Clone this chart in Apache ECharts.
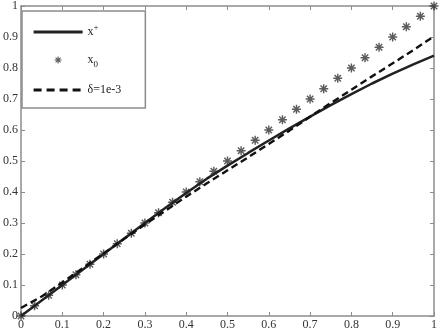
<!DOCTYPE html>
<html>
<head>
<meta charset="utf-8">
<script src="https://cdn.jsdelivr.net/npm/echarts@6/dist/echarts.min.js"></script>
<style>
  html, body { margin: 0; padding: 0; background: #fff; }
  #chart { width: 440px; height: 331px; }
</style>
</head>
<body>
<div id="chart"></div>
<script>
// curve samples
const xGrid = [0, 0.05, 0.1, 0.15, 0.2, 0.25, 0.3, 0.35, 0.4, 0.45, 0.5, 0.55, 0.6, 0.65, 0.7, 0.75, 0.8, 0.85, 0.9, 0.95, 1]
const xPlus = [0, 0.05, 0.1, 0.15, 0.2, 0.25, 0.3, 0.349, 0.397, 0.443, 0.485, 0.526, 0.566, 0.605, 0.643, 0.68, 0.716, 0.75, 0.782, 0.812, 0.84]
const xDelta = [0.026, 0.063, 0.108, 0.155, 0.202, 0.249, 0.295, 0.34, 0.385, 0.428, 0.47, 0.512, 0.555, 0.598, 0.643, 0.687, 0.73, 0.773, 0.815, 0.858, 0.902]
// x0 markers
const x0X = [0, 0.033, 0.067, 0.1, 0.133, 0.167, 0.2, 0.233, 0.267, 0.3, 0.333, 0.367, 0.4, 0.433, 0.467, 0.5,
  0.533, 0.567, 0.6, 0.633, 0.667, 0.7, 0.733, 0.767, 0.8, 0.833, 0.867, 0.9, 0.933, 0.967, 1]
const x0Y = [0, 0.033, 0.067, 0.1, 0.133, 0.167, 0.2, 0.233, 0.267, 0.3, 0.333, 0.367, 0.4, 0.433, 0.467, 0.5,
  0.533, 0.567, 0.6, 0.633, 0.667, 0.7, 0.733, 0.767, 0.8, 0.833, 0.867, 0.9, 0.933, 0.967, 1]
const names = ['x+', 'x0', 'δ=1e-3']

// asterisk made of 4 thin bars
const star = 'M-1.6,-10 L1.6,-10 L1.6,10 L-1.6,10 Z ' +
  'M-10,-1.6 L10,-1.6 L10,1.6 L-10,1.6 Z ' +
  'M5.94,-8.2 L8.2,-5.94 L-5.94,8.2 L-8.2,5.94 Z ' +
  'M-8.2,-5.94 L-5.94,-8.2 L8.2,5.94 L5.94,8.2 Z'
const starIcon = 'path://M0,-20 M0,20 ' + star

const font = 'Liberation Serif'
const axisGray = '#8c8c8c'

function axisX(pos, showLabel) {
  return {
    type: 'value', position: pos, min: 0, max: 1, interval: 0.1,
    axisLine: { show: true, onZero: false, lineStyle: { color: axisGray, width: 1.5 } },
    axisTick: { show: true, inside: true, length: 4, lineStyle: { color: axisGray } },
    axisLabel: {
      show: showLabel, margin: 3, color: '#333', fontFamily: font, fontSize: 12,
      showMinLabel: true, showMaxLabel: true, hideOverlap: false
    },
    splitLine: { show: false }
  }
}
function axisY(pos, showLabel) {
  return {
    type: 'value', position: pos, min: 0, max: 1, interval: 0.1,
    axisLine: { show: true, onZero: false, lineStyle: { color: axisGray, width: 1.5 } },
    axisTick: { show: true, inside: true, length: 4, lineStyle: { color: axisGray } },
    axisLabel: {
      show: showLabel, margin: 3, color: '#333', fontFamily: font, fontSize: 12,
      showMinLabel: true, showMaxLabel: true, hideOverlap: false
    },
    splitLine: { show: false }
  }
}

const option = {
  animation: false,
  backgroundColor: '#fff',
  grid: { left: 17, right: 3, top: 5, bottom: 14 },
  xAxis: [axisX('bottom', true), axisX('top', false)],
  yAxis: [axisY('left', true), axisY('right', false)],
  legend: {
    orient: 'vertical',
    left: 22,
    top: 11,
    padding: [12, 24, 12, 10],
    itemWidth: 49,
    itemHeight: 14,
    itemGap: 15,
    borderColor: axisGray,
    borderWidth: 1.5,
    borderRadius: 0,
    backgroundColor: '#fff',
    data: [
      { name: names[0], itemStyle: { opacity: 0 }, lineStyle: { width: 3.2 } },
      { name: names[1], icon: starIcon },
      { name: names[2], itemStyle: { opacity: 0 }, lineStyle: { width: 3, type: [8, 5] } }
    ],
    formatter: function(name) {
      if (name === 'x+') return '{b|x}{sup|+}'
      if (name === 'x0') return '{b|x}{sub|0}'
      return '{b|' + name + '}'
    },
    textStyle: {
      fontFamily: font,
      color: '#222',
      rich: {
        b: { fontFamily: font, fontSize: 12, color: '#222', lineHeight: 18 },
        sup: { fontFamily: font, fontSize: 9, color: '#222', lineHeight: 9, verticalAlign: 'top' },
        sub: { fontFamily: font, fontSize: 9, color: '#222', lineHeight: 9, verticalAlign: 'bottom' }
      }
    }
  },
  series: [
    {
      name: names[0],
      type: 'line',
      symbol: 'none',
      color: '#222',
      lineStyle: { color: '#222', width: 2.5 },
      data: xGrid.map((x, i) => [x, xPlus[i]]),
      z: 3
    },
    {
      name: names[1],
      type: 'scatter',
      symbol: 'path://' + star,
      symbolSize: 9,
      color: '#333',
      itemStyle: { color: '#333' },
      data: x0X.map((x, i) => [x, x0Y[i]]),
      z: 2
    },
    {
      name: names[2],
      type: 'line',
      symbol: 'none',
      color: '#111',
      lineStyle: { color: '#111', width: 2.4, type: [7, 4] },
      data: xGrid.map((x, i) => [x, xDelta[i]]),
      z: 4
    }
  ]
}

const myChart = echarts.init(document.getElementById('chart'), null, { renderer: 'canvas' })
myChart.setOption(option)
</script>
</body>
</html>
